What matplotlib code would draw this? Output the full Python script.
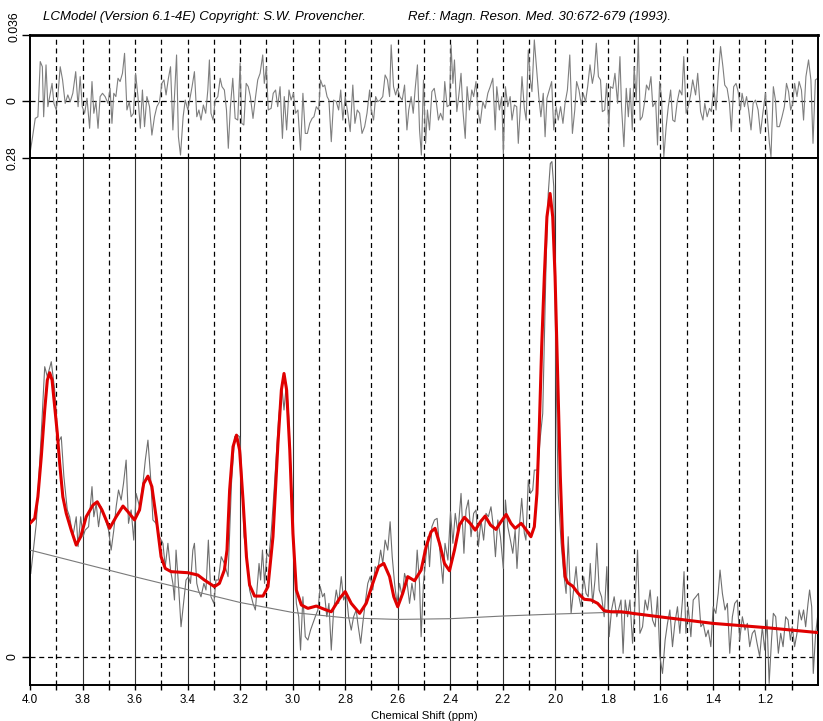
import matplotlib
matplotlib.use('Agg')
import matplotlib.pyplot as plt
import numpy as np

plt.rcParams['font.family'] = ['Liberation Sans', 'DejaVu Sans']

# ---------------- data (ppm, amplitude) ----------------
data_pts = [
    (3.997,0.0469),(3.976,0.0750),(3.957,0.1255),(3.944,0.1629),(3.934,0.1573),(3.919,0.1657),
    (3.906,0.1498),(3.894,0.1199),(3.881,0.1236),(3.871,0.1012),(3.858,0.0825),(3.849,0.0787),
    (3.837,0.0675),(3.824,0.0787),(3.817,0.0619),(3.807,0.0787),(3.798,0.0675),(3.790,0.0712),
    (3.777,0.0731),(3.764,0.0956),(3.757,0.0787),(3.748,0.0862),(3.739,0.0731),(3.729,0.0843),
    (3.714,0.0778),(3.701,0.0712),(3.691,0.0600),(3.681,0.0712),(3.672,0.0843),(3.663,0.0937),
    (3.653,0.0881),(3.644,0.0974),(3.634,0.1105),(3.625,0.0750),(3.615,0.0825),(3.605,0.0656),
    (3.596,0.0918),(3.583,0.0843),(3.570,0.0974),(3.561,0.1105),(3.551,0.1217),(3.541,0.1012),
    (3.532,0.0769),(3.520,0.0750),(3.507,0.0675),(3.494,0.0638),(3.485,0.0507),(3.475,0.0638),
    (3.465,0.0488),(3.456,0.0413),(3.450,0.0320),(3.444,0.0600),(3.435,0.0413),(3.425,0.0170),
    (3.414,0.0320),(3.406,0.0432),(3.397,0.0451),(3.389,0.0413),(3.380,0.0600),(3.374,0.0638),
    (3.365,0.0413),(3.359,0.0376),(3.349,0.0338),(3.338,0.0413),(3.330,0.0376),(3.321,0.0656),
    (3.311,0.0338),(3.300,0.0301),(3.292,0.0432),(3.283,0.0432),(3.272,0.0563),(3.260,0.0525),
    (3.246,0.0451),(3.233,0.0974),(3.221,0.1236),(3.210,0.1245),(3.202,0.1236),(3.195,0.1068),
    (3.185,0.0675),(3.176,0.0600),(3.164,0.0376),(3.151,0.0301),(3.142,0.0264),(3.134,0.0413),
    (3.128,0.0525),(3.122,0.0432),(3.115,0.0600),(3.107,0.0413),(3.098,0.0582),(3.090,0.0563),
    (3.081,0.0712),(3.069,0.0974),(3.053,0.1348),(3.041,0.1517),(3.033,0.1386),(3.024,0.1535),
    (3.015,0.1348),(3.005,0.0974),(2.995,0.0600),(2.986,0.0301),(2.977,0.0226),(2.970,0.0039),
    (2.961,0.0338),(2.952,0.0114),(2.942,0.0095),(2.932,0.0151),(2.923,0.0189),(2.914,0.0226),
    (2.904,0.0264),(2.895,0.0395),(2.886,0.0338),(2.879,0.0357),(2.870,0.0226),(2.862,0.0301),
    (2.853,0.0039),(2.844,0.0264),(2.834,0.0376),(2.825,0.0301),(2.815,0.0451),(2.806,0.0320),
    (2.796,0.0357),(2.787,0.0226),(2.777,0.0151),(2.768,0.0226),(2.758,0.0264),(2.752,0.0189),
    (2.741,0.0077),(2.733,0.0189),(2.724,0.0301),(2.714,0.0413),(2.705,0.0451),(2.695,0.0376),
    (2.686,0.0507),(2.676,0.0488),(2.665,0.0600),(2.657,0.0525),(2.648,0.0656),(2.638,0.0600),
    (2.629,0.0759),(2.621,0.0563),(2.612,0.0413),(2.603,0.0301),(2.593,0.0413),(2.583,0.0338),
    (2.574,0.0469),(2.564,0.0413),(2.555,0.0301),(2.546,0.0413),(2.536,0.0320),(2.526,0.0600),
    (2.517,0.0413),(2.511,0.0114),(2.502,0.0413),(2.494,0.0544),(2.485,0.0675),
    (2.479,0.0507),(2.470,0.0731),(2.460,0.0769),(2.450,0.0778),(2.441,0.0619),(2.428,0.0413),
    (2.420,0.0638),(2.409,0.0544),(2.399,0.0815),(2.390,0.0638),(2.381,0.0806),(2.371,0.0694),
    (2.359,0.0918),(2.348,0.0582),(2.340,0.0825),(2.331,0.0881),(2.321,0.0675),(2.311,0.0806),
    (2.302,0.0825),(2.293,0.0619),(2.283,0.0769),(2.273,0.0656),(2.264,0.0806),(2.255,0.0787),
    (2.245,0.0843),(2.236,0.0731),(2.228,0.0563),(2.219,0.0769),(2.209,0.0675),(2.198,0.0497),
    (2.190,0.0881),(2.181,0.0731),(2.171,0.0656),(2.162,0.0582),(2.153,0.0712),(2.146,0.0497),
    (2.137,0.0731),(2.128,0.0890),(2.118,0.0694),(2.112,0.0656),(2.103,0.0993),(2.095,0.0918),
    (2.086,0.0937),(2.080,0.1049),(2.067,0.1049),(2.057,0.1236),(2.048,0.1367),(2.035,0.2227),
    (2.027,0.2601),(2.019,0.2769),(2.013,0.2780),(2.006,0.2639),(1.998,0.1666),(1.989,0.0918),
    (1.978,0.0638),(1.968,0.0469),(1.959,0.0357),(1.951,0.0675),(1.940,0.0245),(1.932,0.0357),
    (1.921,0.0507),(1.913,0.0357),(1.902,0.0282),(1.892,0.0451),(1.883,0.0357),(1.875,0.0338),
    (1.867,0.0525),(1.858,0.0301),(1.849,0.0432),(1.842,0.0638),(1.833,0.0376),(1.824,0.0338),
    (1.814,0.0226),(1.804,0.0507),(1.795,0.0114),(1.786,0.0264),(1.776,0.0338),(1.766,0.0226),
    (1.750,0.0320),(1.742,0.0021),(1.734,0.0320),(1.725,0.0226),(1.716,0.0320),(1.706,0.0077),
    (1.696,0.0320),(1.687,0.0600),(1.678,0.0133),(1.668,0.0170),(1.658,0.0320),(1.649,0.0264),
    (1.639,0.0376),(1.630,0.0208),(1.620,0.0170),(1.611,0.0338),(1.602,0.0002),(1.592,-0.0092),
    (1.582,0.0095),(1.573,0.0189),(1.564,0.0264),(1.554,0.0058),(1.545,0.0189),(1.535,0.0282),
    (1.526,0.0133),(1.516,0.0320),(1.510,0.0479),(1.503,0.0133),(1.494,0.0282),(1.484,0.0114),
    (1.475,0.0320),(1.465,0.0338),(1.455,0.0357),(1.446,0.0170),(1.437,0.0189),(1.427,0.0114),
    (1.418,0.0151),(1.408,0.0058),(1.399,0.0282),(1.389,0.0245),(1.380,0.0357),(1.373,0.0488),
    (1.364,0.0357),(1.354,0.0264),(1.345,0.0301),(1.336,0.0021),(1.326,0.0226),(1.317,0.0301),
    (1.307,0.0320),(1.298,0.0095),(1.288,0.0226),(1.278,0.0151),(1.269,0.0189),(1.260,0.0058),
    (1.250,0.0133),(1.241,0.0151),(1.232,0.0077),(1.222,0.0002),(1.212,0.0170),(1.203,0.0039),
    (1.194,0.0208),(1.186,-0.0148),(1.177,0.0095),(1.170,0.0245),(1.161,0.0226),(1.151,0.0021),
    (1.142,0.0133),(1.133,0.0058),(1.123,0.0226),(1.114,0.0208),(1.105,0.0095),(1.098,0.0170),
    (1.089,0.0058),(1.080,0.0133),(1.072,0.0264),(1.063,0.0208),(1.055,0.0264),(1.047,0.0170),
    (1.038,0.0301),(1.032,0.0376),(1.024,0.0282),(1.018,-0.0092),(1.009,0.0133),(1.000,0.0245),
]

fit_pts = [
    (4.000,0.0750),(3.982,0.0778),(3.970,0.0899),(3.957,0.1124),(3.944,0.1386),(3.934,0.1554),
    (3.925,0.1595),(3.916,0.1554),(3.906,0.1404),(3.896,0.1255),(3.887,0.1086),(3.875,0.0899),
    (3.862,0.0806),(3.843,0.0712),(3.824,0.0628),(3.807,0.0675),(3.786,0.0787),(3.760,0.0853),
    (3.744,0.0871),(3.726,0.0825),(3.697,0.0722),(3.672,0.0787),(3.646,0.0847),(3.627,0.0815),
    (3.602,0.0769),(3.583,0.0825),(3.567,0.0974),(3.551,0.1015),(3.536,0.0956),(3.520,0.0787),
    (3.501,0.0563),(3.485,0.0497),(3.463,0.0479),(3.399,0.0473),(3.361,0.0460),(3.336,0.0432),
    (3.298,0.0395),(3.279,0.0413),(3.260,0.0488),(3.250,0.0600),(3.240,0.0937),(3.227,0.1180),
    (3.214,0.1245),(3.202,0.1161),(3.189,0.0881),(3.176,0.0563),(3.164,0.0404),(3.145,0.0342),
    (3.113,0.0342),(3.094,0.0395),(3.075,0.0675),(3.056,0.1199),(3.043,0.1498),(3.033,0.1591),
    (3.023,0.1498),(3.011,0.1161),(2.999,0.0694),(2.986,0.0376),(2.967,0.0292),(2.942,0.0273),
    (2.910,0.0286),(2.878,0.0267),(2.853,0.0254),(2.821,0.0329),(2.800,0.0367),(2.777,0.0301),
    (2.745,0.0245),(2.720,0.0301),(2.695,0.0413),(2.673,0.0507),(2.653,0.0525),(2.631,0.0451),
    (2.615,0.0338),(2.600,0.0282),(2.581,0.0357),(2.562,0.0451),(2.536,0.0428),(2.511,0.0488),
    (2.492,0.0619),(2.473,0.0703),(2.458,0.0722),(2.441,0.0638),(2.422,0.0525),(2.403,0.0484),
    (2.384,0.0600),(2.365,0.0741),(2.346,0.0784),(2.324,0.0750),(2.305,0.0712),(2.285,0.0759),
    (2.267,0.0791),(2.247,0.0741),(2.226,0.0716),(2.207,0.0759),(2.187,0.0800),(2.169,0.0750),
    (2.153,0.0722),(2.130,0.0750),(2.112,0.0716),(2.093,0.0675),(2.080,0.0731),(2.070,0.0918),
    (2.061,0.1292),(2.052,0.1741),(2.042,0.2134),(2.032,0.2470),(2.020,0.2601),(2.010,0.2470),
    (2.001,0.2134),(1.991,0.1573),(1.981,0.1012),(1.972,0.0638),(1.963,0.0451),(1.953,0.0417),
    (1.934,0.0398),(1.913,0.0357),(1.890,0.0324),(1.864,0.0320),(1.839,0.0301),(1.814,0.0260),
    (1.788,0.0254),(1.750,0.0254),(1.722,0.0249),(1.706,0.0245),(1.605,0.0226),(1.402,0.0189),
    (1.199,0.0165),(1.000,0.0137),
]

baseline_pts = [
    (4.0,0.0600),(3.8,0.0525),(3.6,0.0450),(3.4,0.0378),(3.2,0.0306),(3.0,0.0250),
    (2.8,0.0220),(2.6,0.0211),(2.4,0.0215),(2.2,0.0230),(2.0,0.0241),(1.8,0.0250),
    (1.706,0.0245),(1.605,0.0226),(1.402,0.0189),(1.199,0.0165),(1.000,0.0137),
]

resid_pts = [
    (4.000,-0.0286),(3.992,-0.0213),(3.980,-0.0095),(3.970,-0.0086),(3.961,0.0215),(3.953,0.0187),
    (3.948,-0.0086),(3.939,0.0197),(3.932,-0.0031),(3.924,0.0033),(3.916,0.0096),(3.909,-0.0013),
    (3.900,-0.0049),(3.894,0.0024),(3.885,0.0187),(3.876,0.0115),(3.866,-0.0013),(3.856,0.0033),
    (3.847,-0.0004),(3.837,0.0042),(3.826,0.0160),(3.817,-0.0031),(3.809,0.0133),(3.801,-0.0031),
    (3.792,-0.0067),(3.783,0.0015),(3.773,-0.0149),(3.764,0.0106),(3.757,-0.0067),(3.749,-0.0004),
    (3.741,-0.0149),(3.733,0.0024),(3.724,0.0042),(3.714,0.0024),(3.703,-0.0013),(3.695,0.0069),
    (3.688,-0.0122),(3.681,0.0042),(3.673,0.0024),(3.665,0.0124),(3.657,0.0106),(3.648,0.0151),
    (3.640,0.0260),(3.631,-0.0049),(3.622,-0.0004),(3.615,-0.0086),(3.606,-0.0067),(3.598,0.0151),
    (3.589,0.0024),(3.580,-0.0149),(3.572,0.0060),(3.564,-0.0140),(3.555,0.0024),(3.545,-0.0031),
    (3.536,-0.0186),(3.526,-0.0086),(3.517,-0.0031),(3.507,-0.0004),(3.498,0.0096),(3.490,0.0115),
    (3.482,0.0033),(3.473,0.0124),(3.465,0.0187),(3.456,-0.0158),(3.450,0.0024),(3.442,0.0251),
    (3.435,-0.0195),(3.427,-0.0295),(3.417,-0.0086),(3.409,0.0005),(3.399,-0.0049),(3.390,0.0024),
    (3.383,0.0078),(3.374,0.0160),(3.365,-0.0086),(3.357,-0.0049),(3.349,-0.0104),(3.340,-0.0022),
    (3.331,-0.0067),(3.323,0.0060),(3.317,0.0224),(3.311,-0.0067),(3.303,-0.0104),(3.295,0.0005),
    (3.285,0.0024),(3.276,0.0124),(3.269,0.0078),(3.260,0.0060),(3.252,-0.0049),(3.245,-0.0258),
    (3.237,-0.0031),(3.228,0.0124),(3.219,-0.0095),(3.209,-0.0104),(3.200,0.0206),(3.194,-0.0122),
    (3.186,-0.0131),(3.177,0.0096),(3.169,0.0078),(3.161,0.0024),(3.151,-0.0095),(3.142,0.0015),
    (3.133,0.0115),(3.124,0.0151),(3.114,0.0251),(3.108,0.0096),(3.100,0.0187),(3.093,-0.0049),
    (3.082,-0.0040),(3.074,0.0042),(3.065,0.0060),(3.057,-0.0031),(3.048,0.0078),(3.039,-0.0204),
    (3.032,0.0024),(3.023,-0.0158),(3.014,0.0060),(3.006,0.0005),(2.997,0.0042),(2.989,-0.0067),
    (2.980,-0.0049),(2.970,-0.0268),(2.961,0.0042),(2.952,-0.0177),(2.944,-0.0177),(2.935,-0.0122),
    (2.926,-0.0095),(2.919,-0.0086),(2.910,-0.0031),(2.901,-0.0049),(2.894,0.0115),(2.885,0.0078),
    (2.878,0.0087),(2.869,0.0024),(2.862,0.0005),(2.853,-0.0222),(2.844,0.0005),(2.834,-0.0004),
    (2.825,-0.0049),(2.817,0.0060),(2.809,-0.0104),(2.800,0.0024),(2.790,-0.0067),(2.781,-0.0167),
    (2.771,0.0087),(2.763,-0.0122),(2.754,-0.0049),(2.745,-0.0067),(2.736,-0.0177),(2.726,-0.0140),
    (2.717,-0.0067),(2.707,0.0060),(2.701,-0.0049),(2.692,-0.0104),(2.684,0.0024),(2.676,-0.0004),
    (2.667,0.0005),(2.657,0.0024),(2.648,0.0142),(2.639,0.0115),(2.631,0.0024),(2.625,0.0306),
    (2.616,0.0078),(2.608,0.0033),(2.601,0.0069),(2.592,0.0024),(2.583,0.0005),(2.574,0.0087),
    (2.565,-0.0158),(2.558,-0.0049),(2.549,0.0024),(2.541,-0.0067),(2.534,0.0060),(2.525,0.0197),
    (2.517,-0.0158),(2.510,-0.0295),(2.502,0.0115),(2.494,-0.0231),(2.487,-0.0049),(2.479,-0.0158),
    (2.470,0.0051),(2.461,0.0069),(2.454,0.0005),(2.445,-0.0104),(2.437,-0.0067),(2.428,-0.0104),
    (2.421,0.0106),(2.412,-0.0031),(2.403,-0.0022),(2.397,0.0306),(2.390,0.0096),(2.384,0.0224),
    (2.375,-0.0058),(2.368,0.0024),(2.359,0.0151),(2.352,-0.0049),(2.343,-0.0204),(2.336,0.0078),
    (2.327,-0.0049),(2.318,0.0060),(2.311,0.0024),(2.302,0.0106),(2.295,-0.0049),(2.286,-0.0122),
    (2.276,-0.0004),(2.267,-0.0040),(2.257,0.0042),(2.248,0.0078),(2.238,0.0124),(2.229,-0.0158),
    (2.223,0.0078),(2.213,-0.0049),(2.204,0.0024),(2.198,-0.0286),(2.190,0.0078),(2.181,-0.0031),
    (2.172,0.0024),(2.165,-0.0104),(2.156,-0.0022),(2.147,-0.0031),(2.141,-0.0231),(2.133,-0.0031),
    (2.127,0.0133),(2.118,-0.0040),(2.111,-0.0104),(2.103,0.0278),(2.095,0.0115),(2.089,0.0051),
    (2.080,0.0333),(2.071,0.0169),(2.063,0.0024),(2.055,-0.0086),(2.046,0.0042),(2.039,-0.0195),
    (2.032,0.0015),(2.023,0.0060),(2.014,0.0106),(2.006,-0.0158),(1.997,-0.0031),
    (1.989,-0.0104),(1.980,-0.0031),(1.971,-0.0122),(1.963,-0.0013),(1.954,0.0060),(1.945,0.0251),
    (1.935,-0.0177),(1.926,-0.0049),(1.919,0.0106),(1.910,0.0060),(1.901,-0.0022),(1.894,0.0042),
    (1.885,-0.0004),(1.877,0.0078),(1.868,0.0197),(1.859,0.0096),(1.852,0.0151),(1.844,0.0315),
    (1.836,0.0133),(1.828,0.0115),(1.821,-0.0058),(1.812,-0.0049),(1.805,0.0096),(1.796,-0.0140),
    (1.790,0.0078),(1.781,0.0069),(1.773,0.0151),(1.763,-0.0013),(1.754,0.0242),(1.748,-0.0031),
    (1.739,-0.0249),(1.730,0.0069),(1.722,-0.0086),(1.715,0.0069),(1.707,-0.0158),(1.700,0.0187),
    (1.692,0.0005),(1.684,0.0351),(1.677,-0.0104),(1.669,-0.0086),(1.660,-0.0004),(1.653,0.0087),
    (1.644,0.0060),(1.636,0.0133),(1.629,-0.0031),(1.618,-0.0004),(1.611,-0.0240),(1.603,0.0106),
    (1.596,0.0024),(1.587,-0.0304),(1.578,-0.0140),(1.570,-0.0031),(1.561,0.0060),(1.553,-0.0104),
    (1.545,-0.0113),(1.536,-0.0004),(1.527,0.0060),(1.518,0.0033),(1.511,0.0242),(1.502,-0.0067),
    (1.494,-0.0031),(1.485,0.0033),(1.477,0.0115),(1.466,0.0033),(1.458,0.0151),(1.447,-0.0058),
    (1.438,-0.0104),(1.431,-0.0013),(1.422,-0.0086),(1.413,-0.0040),(1.406,-0.0058),(1.397,0.0078),
    (1.388,-0.0049),(1.380,0.0133),(1.371,0.0297),(1.362,0.0187),(1.355,0.0087),(1.346,0.0069),
    (1.337,-0.0013),(1.330,-0.0167),(1.321,0.0078),(1.312,0.0096),(1.304,0.0051),(1.295,-0.0049),
    (1.289,0.0042),(1.280,-0.0031),(1.272,0.0024),(1.264,-0.0049),(1.255,-0.0158),(1.247,-0.0013),
    (1.238,0.0005),(1.228,-0.0049),(1.219,-0.0177),(1.210,-0.0067),(1.200,0.0042),(1.194,-0.0067),
    (1.185,-0.0231),(1.179,-0.0304),(1.170,0.0078),(1.162,0.0005),(1.156,-0.0140),(1.147,-0.0140),
    (1.137,-0.0086),(1.128,-0.0031),(1.120,0.0096),(1.112,0.0051),(1.104,-0.0049),(1.096,-0.0013),
    (1.089,0.0096),(1.080,0.0024),(1.072,0.0106),(1.063,0.0060),(1.055,-0.0104),(1.046,0.0133),
    (1.036,0.0224),(1.027,0.0115),(1.019,-0.0231),(1.010,0.0115),(1.001,0.0124),
]

major_ticks = [4.0, 3.8, 3.6, 3.4, 3.2, 3.0, 2.8, 2.6, 2.4, 2.2, 2.0, 1.8, 1.6, 1.4, 1.2]
minor_ticks = [3.9, 3.7, 3.5, 3.3, 3.1, 2.9, 2.7, 2.5, 2.3, 2.1, 1.9, 1.7, 1.5, 1.3, 1.1]
tick_labels = ['4.0', '3.8', '3.6', '3.4', '3.2', '3.0', '2.8', '2.6', '2.4', '2.2',
               '2.0', '1.8', '1.6', '1.4', '1.2']

title_left = 'LCModel (Version 6.1-4E) Copyright: S.W. Provencher.'
title_right = 'Ref.: Magn. Reson. Med. 30:672-679 (1993).'
x_label = 'Chemical Shift (ppm)'

data_x, data_y = np.array(data_pts).T
fit_x, fit_y = np.array(fit_pts).T
base_x, base_y = np.array(baseline_pts).T
res_x, res_y = np.array(resid_pts).T

# ---------------- figure ----------------
W, H = 823, 721
fig = plt.figure(figsize=(W / 100, H / 100), dpi=100)
ax_r = fig.add_axes([30 / W, 1 - 158 / H, 788 / W, 123 / H])
ax = fig.add_axes([30 / W, 1 - 685 / H, 788 / W, 527 / H])

dash = (4, 3)
for a in (ax_r, ax):
    a.set_xlim(4.0, 1.0)
    for s in a.spines.values():
        s.set_linewidth(1.4)
        s.set_color('black')
    a.axhline(0, color='black', lw=0.9, dashes=dash, zorder=1)

# vertical grid lines
for t in major_ticks[1:]:
    ax.axvline(t, color='#333333', lw=0.8, zorder=1)
    ax_r.axvline(t, color='black', lw=0.9, dashes=dash, zorder=1)
for t in minor_ticks:
    ax.axvline(t, color='black', lw=0.9, dashes=dash, zorder=1)
    ax_r.axvline(t, color='black', lw=0.9, dashes=dash, zorder=1)

# residual panel
ax_r.plot(res_x, res_y, color='#7f7f7f', lw=0.8, zorder=2)
ax_r.set_ylim(-0.0311, 0.036)
ax_r.set_yticks([0, 0.036])
ax_r.set_yticklabels(['0', ''], rotation=90, va='center')
ax_r.tick_params(axis='x', bottom=False, labelbottom=False)
ax_r.tick_params(axis='y', direction='out', length=5.5, width=1, pad=3, labelsize=8.8)
ax_r.spines['top'].set_linewidth(2.0)
fig.text(14 / W, 1 - 27 / H, '0.036', rotation=90, ha='center', va='center', fontsize=8.8)

# main panel
ax.plot(data_x, data_y, color='#6e6e6e', lw=0.8, zorder=2)
ax.plot(base_x, base_y, color='#7a7a7a', lw=0.8, zorder=3)
ax.plot(fit_x, fit_y, color='#e00000', lw=2.2, zorder=4, solid_joinstyle='round')
ax.set_ylim(-0.0157, 0.28)
ax.set_yticks([0, 0.28])
ax.set_yticklabels(['0', '0.28'], rotation=90, va='center')
ax.set_xticks(major_ticks)
ax.set_xticklabels(tick_labels)
ax.set_xticks(minor_ticks, minor=True)
ax.tick_params(axis='x', which='both', direction='out', length=3.5, width=1, pad=3, labelsize=8.4)
ax.tick_params(axis='y', direction='out', length=5.5, width=1, pad=3, labelsize=8.8)

fig.text(424 / W, 1 - 716 / H, x_label, ha='center', va='center', fontsize=8.2)
fig.text(43 / W, 1 - 17 / H, title_left, ha='left', va='center', fontsize=9.5, style='italic')
fig.text(408 / W, 1 - 17 / H, title_right, ha='left', va='center', fontsize=9.5, style='italic')

fig.savefig('out.png', dpi=100)
